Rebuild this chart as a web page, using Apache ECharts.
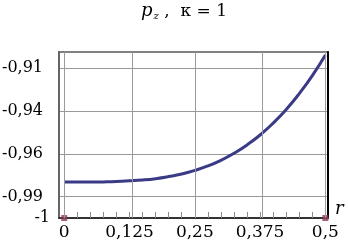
<!DOCTYPE html>
<html>
<head>
<meta charset="utf-8">
<script src="https://cdn.jsdelivr.net/npm/echarts@6/dist/echarts.min.js"></script>
<style>html,body{margin:0;padding:0;background:#fff;}#c{width:348px;height:246px;}</style>
</head>
<body>
<div id="c"></div>
<script>
// r values and p_z values
var xValues = [0, 0.025, 0.05, 0.075, 0.1, 0.125, 0.15, 0.175, 0.2, 0.225, 0.25, 0.275, 0.3, 0.325, 0.35, 0.375, 0.4, 0.425, 0.45, 0.475, 0.5];
var pzValues = [-0.9790, -0.9790, -0.9790, -0.9789, -0.9787, -0.9783, -0.9778, -0.9770, -0.9758, -0.9743, -0.9722, -0.9696, -0.9663, -0.9622, -0.9573, -0.9515, -0.9446, -0.9366, -0.9273, -0.9168, -0.9047];
var markerX = [0, 0.5];
var markerY = [-1, -1];
var xTickValues = [0, 0.125, 0.25, 0.375, 0.5];
var xTickLabels = ['0', '0,125', '0,25', '0,375', '0,5'];
var yTickValues = [-1, -0.9875, -0.9625, -0.9375, -0.9125];
var yTickLabels = ['-1', '-0,99', '-0,96', '-0,94', '-0,91'];

var font = 'DejaVu Serif';
var chart = echarts.init(document.getElementById('c'), null, {renderer: 'canvas'});
function lab(vals, labels) {
  return function (v) {
    for (var i = 0; i < vals.length; i++) if (Math.abs(vals[i] - v) < 1e-9) return labels[i];
    return '';
  };
}
var ylab = lab(yTickValues, yTickLabels);
// grid 0: full framed plot; x spans -0.01 .. 0.505
var gx0 = 59, gw = 269, xmin = -0.01, xmax = 0.505;
var innerLeft = gx0 + (0 - xmin) / (xmax - xmin) * gw;
var innerRight = 348 - (gx0 + (0.5 - xmin) / (xmax - xmin) * gw);
chart.setOption({
  animation: false,
  backgroundColor: '#fff',
  title: {
    text: '{i|p}{s|z}{n| ,  κ = 1}',
    left: 184, top: 0, padding: [2, 0], textAlign: 'center',
    textStyle: {
      fontFamily: font, fontWeight: 'normal', fontSize: 17, color: '#000',
      rich: {
        i: {fontFamily: font, fontStyle: 'italic', fontSize: 18, color: '#000'},
        s: {fontFamily: font, fontStyle: 'italic', fontSize: 10, color: '#000', padding: [9, 0, 0, 1]},
        n: {fontFamily: font, fontSize: 17, color: '#000'}
      }
    }
  },
  grid: [
    {left: gx0, right: 348 - gx0 - gw, top: 52, bottom: 28, show: true, borderColor: '#808080', borderWidth: 2, backgroundColor: 'transparent', outerBoundsMode: 'none', containLabel: false},
    {left: innerLeft, right: innerRight, top: 52, bottom: 28, show: false, outerBoundsMode: 'none', containLabel: false}
  ],
  xAxis: [{
    gridIndex: 0, type: 'value', min: xmin, max: xmax, position: 'bottom',
    name: 'r', nameLocation: 'end', nameGap: 7,
    nameTextStyle: {fontFamily: font, fontStyle: 'italic', fontSize: 18, color: '#000', align: 'left', verticalAlign: 'bottom'},
    axisLine: {show: true, onZero: false, lineStyle: {color: '#333', width: 2}},
    axisTick: {show: false},
    axisLabel: {customValues: xTickValues, formatter: lab(xTickValues, xTickLabels), fontFamily: font, fontSize: 17, color: '#000', margin: 6},
    splitLine: {show: false}
  }, {
    gridIndex: 1, type: 'value', min: 0, max: 0.5, interval: 0.025, position: 'bottom',
    axisLine: {show: false, onZero: false},
    axisTick: {show: true, inside: true, length: 6, lineStyle: {color: '#8a8a8a', width: 1}},
    axisLabel: {show: false},
    splitLine: {show: false}
  }],
  yAxis: [{
    gridIndex: 0, type: 'value', min: -1, max: -0.903, position: 'left',
    axisLine: {show: true, onZero: false, lineStyle: {color: '#666', width: 2}},
    axisTick: {show: false, customValues: yTickValues},
    axisLabel: {
      customValues: yTickValues, margin: 9, align: 'right',
      formatter: function (v) { var t = ylab(v); return t === '-1' ? '{b|' + t + '}' : '{a|' + t + '}'; },
      fontFamily: font, fontSize: 16, color: '#000',
      rich: {
        a: {fontFamily: font, fontSize: 16, color: '#000', padding: [0, 7, 0, 0]},
        b: {fontFamily: font, fontSize: 16, color: '#000'}
      }
    },
    splitLine: {show: true, lineStyle: {color: '#9a9a9a', width: 1}}
  }, {
    gridIndex: 0, type: 'value', min: -1, max: -0.903, position: 'right',
    axisLine: {show: true, onZero: false, lineStyle: {color: '#000', width: 2}},
    axisTick: {show: false}, axisLabel: {show: false}, splitLine: {show: false}
  }, {
    gridIndex: 1, type: 'value', min: -1, max: -0.903, position: 'left',
    axisLine: {show: false}, axisTick: {show: false}, axisLabel: {show: false}, splitLine: {show: false}
  }],
  series: [{
    type: 'line', xAxisIndex: 0, yAxisIndex: 0, smooth: true, symbol: 'none',
    lineStyle: {color: '#3a3a86', width: 3},
    data: xValues.map(function (x, i) { return [x, pzValues[i]]; }),
    markLine: {
      silent: true, symbol: 'none', label: {show: false},
      lineStyle: {color: '#9a9a9a', width: 1, type: 'solid'},
      data: xTickValues.map(function (v) { return {xAxis: v}; })
    },
    z: 3
  }, {
    type: 'scatter', xAxisIndex: 1, yAxisIndex: 2, symbol: 'rect', symbolSize: 6,
    itemStyle: {color: '#8e3a55'},
    data: markerX.map(function (x, i) { return [x, markerY[i]]; }),
    z: 4
  }]
});
</script>
</body>
</html>
